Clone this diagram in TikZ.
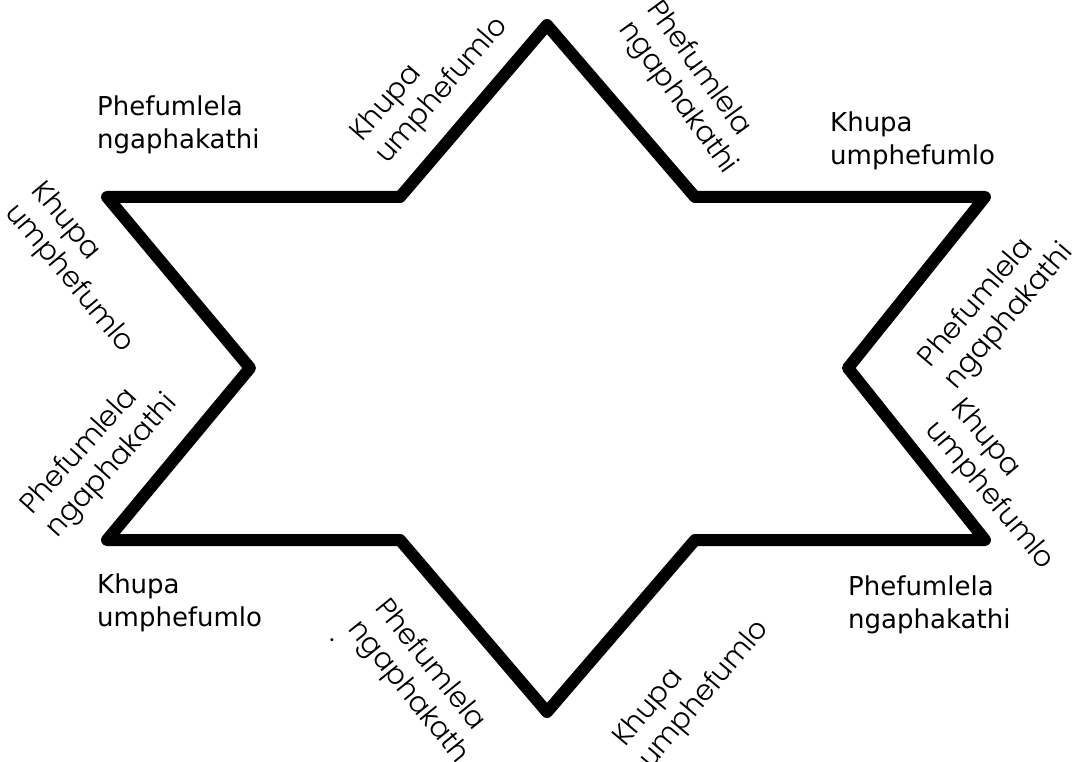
\documentclass[tikz,border=0pt]{standalone}
\usepackage{fontspec}
\newfontfamily\labfont{DejaVu Sans}
\newfontfamily\gothfont{Poppins Light}
\tikzset{
  star/.style={line width=12pt, line join=round, line cap=round},
  hlab/.style={font=\labfont\fontsize{26}{33}\selectfont, align=left, anchor=north west, inner sep=0pt},
  rlab/.style={font=\gothfont\fontsize{28.5}{34}\selectfont, align=left, anchor=center, inner sep=0pt},
}
\begin{document}
\begin{tikzpicture}[x=1pt,y=-1pt]
\useasboundingbox (0,0) rectangle (1084,762);
\coordinate (p1) at (547,25);
\coordinate (p2) at (695,197);
\coordinate (p3) at (985,197);
\coordinate (p4) at (848,368);
\coordinate (p5) at (985,540);
\coordinate (p6) at (695,540);
\coordinate (p7) at (547,712);
\coordinate (p8) at (400,540);
\coordinate (p9) at (107,540);
\coordinate (p10) at (250,368);
\coordinate (p11) at (107,197);
\coordinate (p12) at (400,197);
\draw[star] (p1) -- (p2) -- (p3) -- (p4) -- (p5) -- (p6) -- (p7) -- (p8) -- (p9) -- (p10) -- (p11) -- (p12) -- cycle;

\node[hlab] (h1) at (97,96) {Phefumlela\\ngaphakathi};
\node[hlab] (h2) at (830,112) {Khupa\\umphefumlo};
\node[hlab] (h3) at (97,574) {Khupa\\umphefumlo};
\node[hlab] (h4) at (848,576) {Phefumlela\\ngaphakathi};

\node[rlab, rotate=49] (r1) at (430,80) {Khupa\\umphefumlo};
\node[rlab, rotate=-54] (r2) at (691,88) {Phefumlela\\ngaphakathi};
\node[rlab, rotate=-50] (r3) at (82,268) {Khupa\\umphefumlo};
\node[rlab, rotate=48] (r4) at (100,455) {Phefumlela\\ngaphakathi};
\node[rlab, rotate=49.5] (r5) at (997,306) {Phefumlela\\ngaphakathi};
\node[rlab, rotate=-50] (r6) at (1002,485) {Khupa\\umphefumlo};
\node[rlab, rotate=-51] (r7) at (421,682) {Phefumlela\\ngaphakath};
\node[rlab] (r7dot) at (332,640) {.};
\node[rlab, rotate=50] (r8) at (692,684) {Khupa\\umphefumlo};
\end{tikzpicture}
\end{document}
